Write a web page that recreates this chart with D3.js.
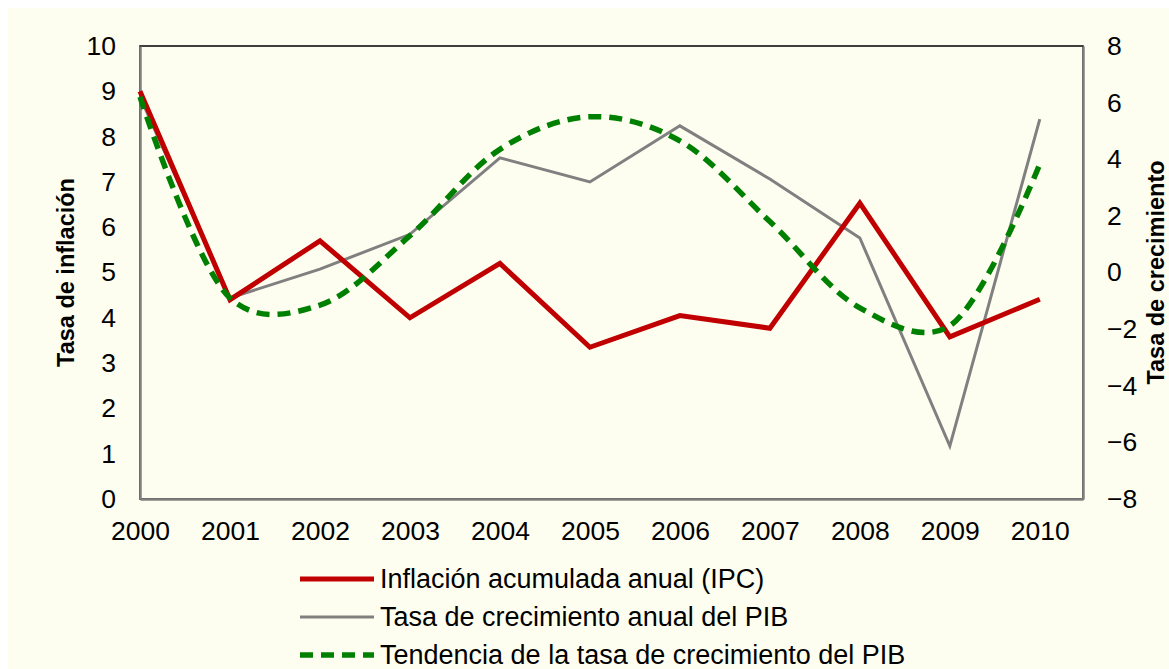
<!DOCTYPE html>
<html>
<head>
<meta charset="utf-8">
<script src="https://cdn.jsdelivr.net/npm/d3@7"></script>
<style>
  body { margin: 0; background: #ffffff; }
  svg text { font-family: "Liberation Sans", Arial, sans-serif; fill: #000; }
</style>
</head>
<body>
<div id="chart"></div>
<script>
// data
const years = [2000, 2001, 2002, 2003, 2004, 2005, 2006, 2007, 2008, 2009, 2010];
const inflacion = [9.0, 4.4, 5.7, 4.0, 5.2, 3.35, 4.05, 3.77, 6.53, 3.58, 4.41];
const crecimiento = [6.2, -0.9, 0.12, 1.35, 4.05, 3.2, 5.18, 3.3, 1.22, -6.13, 5.42];
const tendencia = [6.2, -0.9, -1.15, 1.3, 4.35, 5.5, 4.65, 1.8, -1.25, -1.88, 3.83];
const leftTicks = [0, 1, 2, 3, 4, 5, 6, 7, 8, 9, 10];
const rightTicks = [-8, -6, -4, -2, 0, 2, 4, 6, 8];
const legendLabels = ["Inflación acumulada anual (IPC)", "Tasa de crecimiento anual del PIB", "Tendencia de la tasa de crecimiento del PIB"];

const W = 1169, H = 669;
const plot = {left: 140, right: 1083, top: 46, bottom: 499};

const svg = d3.select("#chart").append("svg")
  .attr("width", W)
  .attr("height", H);

// cream background with the thin white margin
svg.append("rect")
  .attr("x", 8).attr("y", 8)
  .attr("width", W - 8).attr("height", H - 8)
  .attr("fill", "#fefef0");

const xScale = d3.scaleLinear()
  .domain([2000, 2010.48])
  .range([plot.left, plot.right]);

const yLeft = d3.scaleLinear()
  .domain([0, 10])
  .range([plot.bottom, plot.top]);

const yRight = d3.scaleLinear()
  .domain([-8, 8])
  .range([plot.bottom, plot.top]);

// plot area border (black), axes drawn over it in grey
svg.append("rect")
  .attr("x", plot.left).attr("y", plot.top)
  .attr("width", plot.right - plot.left)
  .attr("height", plot.bottom - plot.top)
  .attr("fill", "none")
  .attr("stroke", "#000")
  .attr("stroke-width", 1.5);

const xAxis = d3.axisBottom(xScale).tickValues(years).tickFormat(d3.format("d")).tickSize(0).tickPadding(0);
const leftAxis = d3.axisLeft(yLeft).tickValues(leftTicks).tickSize(0).tickPadding(24);
const rightAxis = d3.axisRight(yRight).tickValues(rightTicks).tickSize(0).tickPadding(24);

function styleAxis(g) {
  g.select(".domain").attr("stroke", "#808080").attr("stroke-width", 2.5);
  g.selectAll("text").attr("font-size", "26.5px").attr("fill", "#000");
}

svg.append("g")
  .attr("transform", `translate(0, ${plot.bottom})`)
  .call(xAxis)
  .call(styleAxis)
  .selectAll("text")
  .attr("dy", null)
  .attr("y", 41);

svg.append("g")
  .attr("transform", `translate(${plot.left}, 0)`)
  .call(leftAxis)
  .call(styleAxis);

svg.append("g")
  .attr("transform", `translate(${plot.right}, 0)`)
  .call(rightAxis)
  .call(styleAxis);

// axis titles
svg.append("text")
  .attr("transform", `translate(74, ${(plot.top + plot.bottom) / 2}) rotate(-90)`)
  .attr("text-anchor", "middle")
  .attr("font-size", "23.5px")
  .attr("font-weight", "bold")
  .text("Tasa de inflación");

svg.append("text")
  .attr("transform", `translate(1164, ${(plot.top + plot.bottom) / 2}) rotate(-90)`)
  .attr("text-anchor", "middle")
  .attr("font-size", "23.5px")
  .attr("font-weight", "bold")
  .text("Tasa de crecimiento");

// lines
const lineLeft = d3.line()
  .x((d, i) => xScale(years[i]))
  .y(d => yLeft(d));

const lineRight = d3.line()
  .x((d, i) => xScale(years[i]))
  .y(d => yRight(d));

const lineSmooth = d3.line()
  .x((d, i) => xScale(years[i]))
  .y(d => yRight(d))
  .curve(d3.curveCatmullRom.alpha(0.25));

svg.append("path")
  .datum(crecimiento)
  .attr("d", lineRight)
  .attr("fill", "none")
  .attr("stroke", "#808080")
  .attr("stroke-width", 3);

svg.append("path")
  .datum(inflacion)
  .attr("d", lineLeft)
  .attr("fill", "none")
  .attr("stroke", "#c00000")
  .attr("stroke-width", 5)
  .attr("stroke-linejoin", "miter");

svg.append("path")
  .datum(tendencia)
  .attr("d", lineSmooth)
  .attr("fill", "none")
  .attr("stroke", "#008000")
  .attr("stroke-width", 5.5)
  .attr("stroke-dasharray", "13,8");

// legend
const legendStyles = [
  {color: "#c00000", width: 5, dash: null},
  {color: "#808080", width: 3, dash: null},
  {color: "#008000", width: 5.5, dash: "13,8"}
];
const legendY = [579, 617, 655];

legendLabels.forEach((label, i) => {
  const s = legendStyles[i];
  svg.append("line")
    .attr("x1", 300).attr("x2", 374)
    .attr("y1", legendY[i]).attr("y2", legendY[i])
    .attr("stroke", s.color)
    .attr("stroke-width", s.width)
    .attr("stroke-dasharray", s.dash);
  svg.append("text")
    .attr("x", 380)
    .attr("y", legendY[i])
    .attr("dy", "0.35em")
    .attr("font-size", "27px")
    .text(label);
});
</script>
</body>
</html>
